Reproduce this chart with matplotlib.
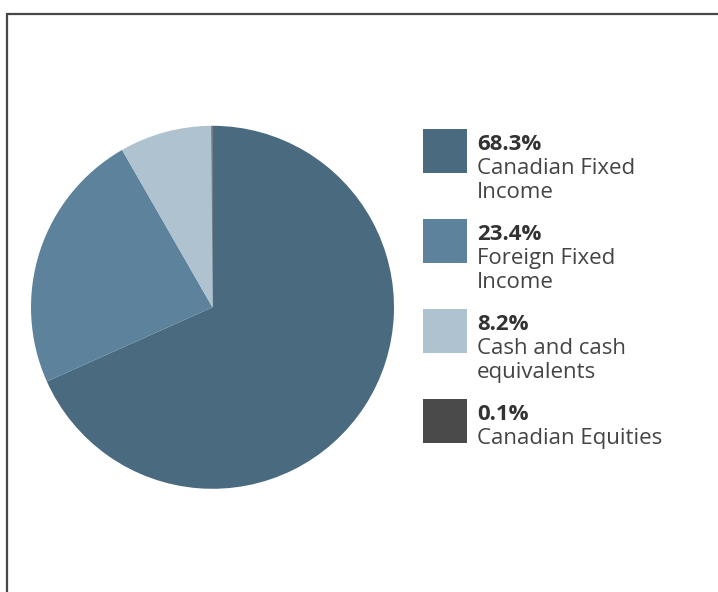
import matplotlib.pyplot as plt
from matplotlib.patches import Rectangle

shares = [68.3, 23.4, 8.2, 0.1]
pct_labels = ["68.3%", "23.4%", "8.2%", "0.1%"]
names = ["Canadian Fixed\nIncome", "Foreign Fixed\nIncome", "Cash and cash\nequivalents", "Canadian Equities"]
colors = ["#4a6a80", "#5d829b", "#afc2cf", "#4a4a4a"]

W, H = 718, 592
fig = plt.figure(figsize=(W / 100, H / 100), dpi=100)
ax = fig.add_axes([0, 0, 1, 1])
ax.set_xlim(0, W)
ax.set_ylim(0, H)
ax.set_aspect("equal")
ax.axis("off")

# frame: left and top only, the rest runs off the picture
ax.plot([7, 7, W + 5], [-5, H - 13.5, H - 13.5], color="#474747", lw=1.6,
        solid_joinstyle="miter")

ax.pie(shares, colors=colors, startangle=90, counterclock=False,
       center=(212.5, H - 307.3), radius=181.5, frame=True)
ax.set_xlim(0, W)
ax.set_ylim(0, H)
ax.axis("off")

plt.rcParams["font.family"] = ["Open Sans", "DejaVu Sans"]
for i, (p, n, c) in enumerate(zip(pct_labels, names, colors)):
    top = 129 + i * 90
    ax.add_patch(Rectangle((423, H - top - 44), 44, 44, color=c, lw=0))
    ax.text(477, H - 150 - i * 90, p, fontsize=16, fontweight="bold",
            color="#333333", va="baseline", ha="left")
    for j, line in enumerate(n.split("\n")):
        ax.text(477, H - 174 - i * 90 - j * 24, line, fontsize=16,
                color="#444444", va="baseline", ha="left")

fig.savefig("out.png", dpi=100, facecolor="white")
